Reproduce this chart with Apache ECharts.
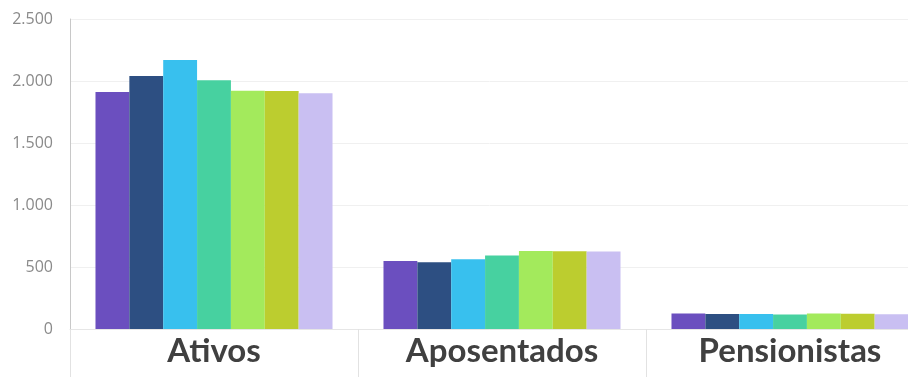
<!DOCTYPE html>
<html>
<head>
<meta charset="utf-8">
<script src="https://cdn.jsdelivr.net/npm/echarts@6/dist/echarts.min.js"></script>
<style>
  html, body { margin: 0; padding: 0; background: #fff; }
  #chart { width: 908px; height: 377px; }
</style>
</head>
<body>
<div id="chart"></div>
<script>
// categorias e valores (7 series, sem legenda no original)
var categories = ['Ativos', 'Aposentados', 'Pensionistas']
var serie1 = [1911, 548, 125]
var serie2 = [2040, 538, 120]
var serie3 = [2169, 562, 120]
var serie4 = [2006, 592, 116]
var serie5 = [1922, 630, 124]
var serie6 = [1919, 627, 122]
var serie7 = [1901, 624, 118]
var yTicks = [0, 500, 1000, 1500, 2000, 2500]

var colors = ['#6b4fbf', '#2d4f82', '#38c0ee', '#47d1a0', '#a3ea5c', '#bccd2f', '#c9bff2']
var allSeries = [serie1, serie2, serie3, serie4, serie5, serie6, serie7]

function fmt(v) {
  return String(v).replace(/\B(?=(\d{3})+(?!\d))/g, '.')
}

var chart = echarts.init(document.getElementById('chart'), null, { renderer: 'canvas' })

var series = []
for (let i in allSeries) {
  series.push({
    name: 'S' + (parseInt(i) + 1),
    type: 'bar',
    data: allSeries[i],
    barGap: '0%',
    barCategoryGap: '17.7%',
    itemStyle: { color: colors[i] }
  })
}

var option = {
  animation: false,
  grid: {
    left: 70,
    top: 19,
    bottom: 48,
    right: -26,   // o grafico original esta cortado a direita
    outerBoundsMode: 'none',
    containLabel: false
  },
  xAxis: {
    type: 'category',
    data: categories,
    axisLine: { show: true, lineStyle: { color: '#e6e6e6' } },
    axisTick: { show: true, length: 48, lineStyle: { color: '#e2e2e2' } },
    axisLabel: {
      margin: 6,
      fontFamily: 'Lato',
      fontWeight: 'bold',
      fontSize: 33,
      color: '#404040'
    }
  },
  yAxis: {
    type: 'value',
    min: yTicks[0],
    max: yTicks[yTicks.length - 1],
    interval: 500,
    axisLine: { show: true, lineStyle: { color: '#c8c8c8' } },
    axisTick: { show: false },
    splitLine: { lineStyle: { color: '#f0f0f0' } },
    axisLabel: {
      margin: 17,
      fontFamily: 'Open Sans',
      fontSize: 16,
      color: '#8a8a8a',
      formatter: fmt
    }
  },
  series: series
}

chart.setOption(option)
</script>
</body>
</html>
